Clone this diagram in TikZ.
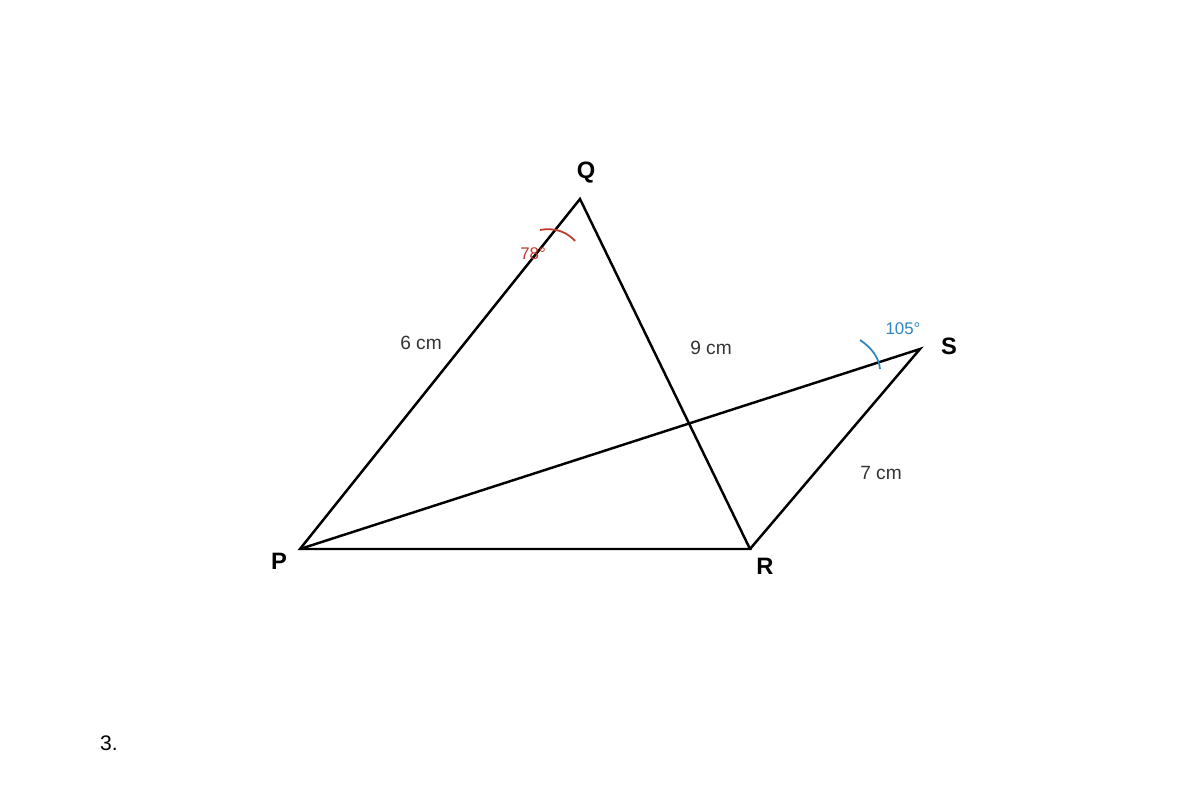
\documentclass[tikz,border=0pt]{standalone}
\usepackage{fontspec}
\setmainfont{Liberation Sans}
\definecolor{angred}{HTML}{C0392B}
\definecolor{angblue}{HTML}{2E86C1}
\definecolor{txt}{HTML}{333333}
\begin{document}
\begin{tikzpicture}[x=0.02cm,y=-0.02cm,
  edge/.style={line width=1.4pt, line join=miter},
  vlabel/.style={font=\fontsize{13.5}{16}\selectfont\bfseries, text=black, inner sep=0pt},
  len/.style={font=\fontsize{10.9}{13}\selectfont, text=txt, inner sep=0pt},
  anglab/.style={font=\fontsize{9.6}{12}\selectfont, inner sep=0pt}]
\useasboundingbox[fill=white] (0,0) rectangle (1200,800);
\coordinate (P) at (300,549);
\coordinate (Q) at (580,199);
\coordinate (R) at (750,549);
\coordinate (S) at (920,349);
\draw[edge] (P) -- (Q) -- (R) -- cycle;
\draw[edge] (P) -- (S) -- (R);
\node[vlabel] (lQ) at (586,173) {Q};
\node[vlabel] (lP) at (279,561) {P};
\node[vlabel] (lR) at (765,566) {R};
\node[vlabel] (lS) at (949,346) {S};
\node[len] (l6) at (421,343) {6 cm};
\node[len] (l9) at (711,348) {9 cm};
\node[len] (l7) at (881,473) {7 cm};
\coordinate (aq1) at (540,230);
\coordinate (aq2) at (575,241);
\draw[angred, line width=1pt] (aq1) .. controls (556,227) and (568,233) .. (aq2);
\node[anglab, text=angred] (a78) at (533,254) {78°};
\coordinate (as1) at (860,340);
\coordinate (as2) at (880,369);
\draw[angblue, line width=1pt] (as1) .. controls (872,348) and (879,358) .. (as2);
\node[anglab, text=angblue] (a105) at (903,329) {105°};
\node[font=\fontsize{12}{14}\selectfont, inner sep=0pt] (num) at (109,743) {3.};
\end{tikzpicture}
\end{document}
